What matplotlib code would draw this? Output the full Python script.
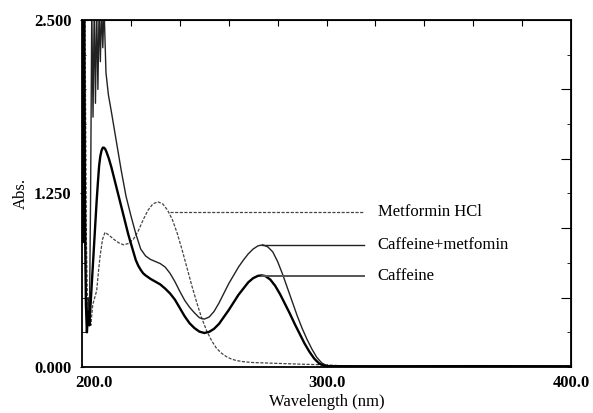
import matplotlib.pyplot as plt
from matplotlib.ticker import MultipleLocator
from matplotlib.transforms import ScaledTranslation

plt.rcParams['font.family'] = ['Liberation Serif', 'DejaVu Serif']

# UV spectra, wavelength (nm) vs absorbance
wl_caf = [200.0, 200.4, 200.8, 201.2, 201.6, 202.0, 202.5, 203.0, 203.5, 204.0,
          204.5, 205.0, 205.5, 206.0, 206.5, 207.0, 207.5, 208.0, 208.5, 209.0,
          209.5, 210.0, 211.0, 212.0, 213.0, 214.0, 215.0, 216.0, 217.0, 218.0,
          219.0, 220.0, 221.0, 222.0, 223.0, 224.0, 225.0, 226.0, 228.0, 230.0,
          232.0, 234.0, 236.0, 238.0, 240.0, 242.0, 244.0, 246.0, 248.0, 250.0,
          252.0, 254.0, 256.0, 258.0, 260.0, 262.0, 264.0, 266.0, 268.0, 270.0,
          272.0, 273.5, 275.0, 277.0, 279.0, 281.0, 283.0, 285.0, 287.0, 289.0,
          291.0, 293.0, 295.0, 297.0, 299.0, 300.0, 320.0, 360.0, 400.0]
abs_caf = [2.6, 0.9, 2.6, 1.1, 0.45, 0.25, 0.4, 0.3, 0.45, 0.6,
           0.75, 0.9, 1.05, 1.2, 1.33, 1.45, 1.52, 1.56, 1.58, 1.58,
           1.57, 1.55, 1.5, 1.44, 1.37, 1.3, 1.23, 1.16, 1.09, 1.02,
           0.95, 0.89, 0.83, 0.77, 0.73, 0.7, 0.675, 0.66, 0.635, 0.615,
           0.595, 0.565, 0.53, 0.485, 0.425, 0.365, 0.315, 0.28, 0.255, 0.245,
           0.253, 0.275, 0.31, 0.36, 0.41, 0.465, 0.52, 0.565, 0.61, 0.64,
           0.657, 0.66, 0.655, 0.63, 0.585, 0.525, 0.455, 0.385, 0.31, 0.24,
           0.17, 0.11, 0.06, 0.025, 0.009, 0.006, 0.005, 0.006, 0.005]

wl_mix = [200.0, 200.5, 201.0, 201.5, 202.0, 202.5, 203.0, 203.5, 204.0, 204.5,
          205.0, 205.5, 206.0, 206.5, 207.0, 207.5, 208.0, 208.5, 209.0, 209.8,
          210.8, 212.0, 214.0, 216.0, 218.0, 220.0, 222.0, 224.0, 226.0, 228.0,
          230.0, 232.0, 234.0, 236.0, 238.0, 240.0, 242.0, 244.0, 246.0, 248.0,
          250.0, 252.0, 254.0, 256.0, 258.0, 260.0, 262.0, 264.0, 266.0, 268.0,
          270.0, 272.0, 274.0, 276.0, 278.0, 280.0, 282.0, 284.0, 286.0, 288.0,
          290.0, 292.0, 294.0, 296.0, 298.0, 300.0, 310.0, 350.0, 400.0]
abs_mix = [2.6, 1.4, 2.6, 0.6, 0.25, 0.5, 0.3, 1.2, 2.6, 1.8,
           2.6, 1.9, 2.6, 2.0, 2.6, 2.2, 2.6, 2.3, 2.6, 2.12,
           1.96, 1.84, 1.63, 1.42, 1.23, 1.09, 0.96, 0.85, 0.8, 0.775,
           0.76, 0.745, 0.72, 0.675, 0.615, 0.545, 0.48, 0.43, 0.39, 0.355,
           0.345, 0.36, 0.4, 0.46, 0.53, 0.6, 0.66, 0.72, 0.77, 0.815,
           0.85, 0.873, 0.88, 0.865, 0.83, 0.76, 0.67, 0.57, 0.47, 0.37,
           0.28, 0.2, 0.13, 0.07, 0.03, 0.01, 0.005, 0.006, 0.005]

wl_met = [200.0, 200.6, 201.2, 201.8, 202.4, 203.0, 203.6, 204.4, 205.2, 206.0,
          206.8, 207.4, 208.4, 209.4, 211.0, 213.0, 215.0, 217.0, 219.0, 221.0,
          223.0, 225.0, 227.0, 229.0, 231.0, 233.0, 235.0, 237.0, 239.0, 241.0,
          243.0, 245.0, 247.0, 249.0, 251.0, 253.0, 255.0, 257.0, 259.0, 261.0,
          263.0, 266.0, 270.0, 280.0, 290.0, 300.0, 305.0, 310.0, 350.0, 400.0]
abs_met = [2.6, 1.5, 2.6, 0.9, 0.3, 0.42, 0.3, 0.45, 0.5, 0.55,
           0.7, 0.8, 0.92, 0.97, 0.95, 0.92, 0.895, 0.88, 0.89, 0.92,
           0.98, 1.06, 1.13, 1.175, 1.19, 1.175, 1.13, 1.06, 0.96, 0.84,
           0.71, 0.58, 0.46, 0.35, 0.26, 0.19, 0.135, 0.1, 0.075, 0.058,
           0.047, 0.038, 0.032, 0.026, 0.02, 0.015, 0.01, 0.006, 0.005, 0.005]

# label leaders: start wavelength and level for each trace
labels = ['Metformin HCl', 'Caffeine+metfomin', 'Caffeine']
lead_start = [236.0, 273.5, 273.5]
lead_level = [1.117, 0.88, 0.656]
lead_end = 315.5
label_x = 321.0

fig = plt.figure(figsize=(5.93, 4.13), dpi=100)
ax = fig.add_axes([0.1383, 0.1114, 0.8246, 0.8402])

ax.plot(wl_met, abs_met, color='#444444', lw=0.9, ls=(0, (2.5, 1.2)))
ax.plot(wl_mix, abs_mix, color='#222222', lw=1.0)
ax.plot(wl_caf, abs_caf, color='black', lw=1.7)

lead_styles = [dict(color='#444444', lw=0.9, ls=(0, (2.5, 1.2))),
               dict(color='#222222', lw=1.0),
               dict(color='#555555', lw=1.4)]
for name, x0, y, st in zip(labels, lead_start, lead_level, lead_styles):
    ax.plot([x0, lead_end], [y, y], **st)
    ax.text(label_x, y, name, fontsize=12, va='center', ha='left')

ax.set_xlim(200, 400)
ax.set_ylim(0, 2.5)
ax.set_xticks([200, 300, 400])
ax.set_xticklabels(['200.0', '300.0', '400.0'])
ax.set_yticks([0, 1.25, 2.5])
ax.set_yticklabels(['0.000', '1.250', '2.500'])
ax.yaxis.set_minor_locator(MultipleLocator(0.25))
ax.tick_params(axis='x', length=2, direction='in', pad=6, labelsize=12)
ax.tick_params(axis='y', which='major', length=3, direction='inout', pad=6, labelsize=12)
ax.tick_params(axis='y', which='minor', length=3, direction='in')
for lab in ax.get_xticklabels() + ax.get_yticklabels():
    lab.set_fontweight('bold')
# first x label sits a little right of its tick
first = ax.get_xticklabels()[0]
first.set_transform(first.get_transform() + ScaledTranslation(0.12, 0, fig.dpi_scale_trans))

ax.set_xlabel('Wavelength (nm)', fontsize=12, labelpad=2)
ax.set_ylabel('Abs.', fontsize=12, labelpad=4)

for sp in ax.spines.values():
    sp.set_linewidth(1.3)

# inward ticks along the top and right frame
top = ax.secondary_xaxis('top')
top.set_xticks(range(220, 400, 20))
top.tick_params(direction='in', length=4, labeltop=False)
right = ax.secondary_yaxis('right')
right.set_yticks([0.5, 1.0, 1.5, 2.0])
right.yaxis.set_minor_locator(MultipleLocator(0.25))
right.tick_params(which='major', direction='in', length=7, labelright=False)
right.tick_params(which='minor', direction='in', length=3)

fig.savefig('out.png', dpi=100)
